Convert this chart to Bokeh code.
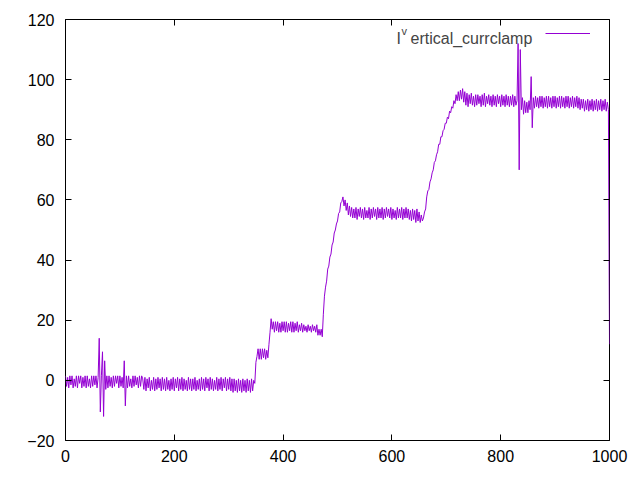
from bokeh.plotting import figure
from bokeh.models import (Range1d, FixedTicker, LinearAxis, CustomJSTickFormatter,
                          Legend, LegendItem, Label)
from bokeh.embed import file_html
from bokeh.resources import INLINE

x_ticks = [0, 200, 400, 600, 800, 1000]
y_ticks = [-20, 0, 20, 40, 60, 80, 100, 120]

seg_a_start = 0
seg_a = [1.5, -2, 1, -2.5, 1.5, -1.5, 1.5, -2.5, 0.5, -2,
         1.5, -2.5, 1.5, -1, 1.5, -2.5, 1, -2, 1.5, -2.5,
         1.5, -2, 0.5, -2.5, 1.5, -2, 1.5, -1.5, 1.5, -2.5,
         1, 14, -10.5, 1.5, 9.5, -12, 6.5, -3, 1.5, -2.5,
         1.5, -2, 1, -2.5, 1.5, -2, 1.5, -1, 1.5, -2.5,
         1.5, -2, 1, -2.5, 6.5, -8.5, 1.5, -2.5, 1.5, -2,
         0.5, -2.5, 1.5, -2, 1.5, -1.5, 1, -2.5, 1.5, -2,
         1.5]

seg_b_start = 142
seg_b = [0.5, -3, 1, -3.5, 0.5, -2.5, 1, -3.5, 0, -3,
         1, -3.5, 0.5, -3, 1, -2.5, 0.5, -3.5, 1, -3,
         0.5, -3.5, 1, -3, 0, -3.5, 0.5, -3, 1, -3.5,
         0.5, -2.5, 1, -3.5, 0.5, -3, 1, -3.5, 0.5, -3,
         0, -3.5, 1, -3, 0.5, -3.5, 0.5, -3, 1, -3.5,
         0, -3, 0.5, -3.5, 1, -3, 0.5, -3.5, 1, -2.5,
         0.5, -3.5, 1, -3, 0.5, -3.5, 0, -3, 1, -3.5,
         0.5, -3, 1, -3.5, 0.5, -2.5, 1, -3.5, 0.5, -3,
         1, -3.5, 0.5, -4, 0.5, -3.5, 0, -4, 0.5, -3.5,
         0, -4, 0.5, -3.5, 0, -4, 0.5, -3.5, 0, -4,
         0.5, -3.5, 0]

seg_c_start = 348
seg_c = [-1, 6, 8, 10.5, 7, 10.5, 7, 10.5, 7.5, 10.5,
         7, 10, 7.5, 12, 16, 20.5, 17, 19.5, 16, 19.5,
         16.5, 19.5, 16, 19, 16, 19.5, 16.5, 19.5, 16, 19.5,
         16, 19, 16.5, 19.5, 16, 19.5, 16, 19, 16.5, 19.5,
         16, 18.5, 16.5, 19, 16, 18.5, 16.5, 18, 16, 18.5,
         16.5, 18, 16, 18.5, 16.5, 18, 16, 18.5, 15, 17]

seg_d_start = 468
seg_d = [15, 17, 14.5, 22, 28, 31, 33, 37, 38, 41,
         42, 45, 46, 49, 50, 52, 53, 55.5, 56, 59,
         59.5, 61, 58, 60, 56.5, 59, 55]

seg_e_start = 522
seg_e = [58, 54.5, 57.5, 54, 57, 54, 57.5, 53.5, 57, 54.5,
         57.5, 54, 57, 53.5, 57.5, 54, 56.5, 54, 57.5, 53.5,
         57, 54, 57.5, 54.5, 57, 53.5, 57.5, 54, 57, 54,
         57.5, 53.5, 57, 54, 57.5, 54.5, 57, 54, 57.5, 53.5,
         57, 54, 56.5, 53.5, 57.5, 54, 57, 54, 57.5, 53.5,
         57, 54, 57.5, 54, 57, 53.5, 56.5, 53, 57, 53.5,
         56.5, 52.5, 57, 53, 56, 52.5, 55, 53, 54]

seg_f_start = 660
seg_f = [56, 57, 61, 63, 63.5, 66, 67, 69, 70, 72.5,
         73, 75, 76, 78.5, 78.5, 81, 81, 83, 83.5, 85.5,
         85.5, 87.5, 87, 89.5, 89, 91, 90.5, 93, 92, 95,
         93, 96, 93, 96.5, 93.5, 97, 92.5, 96]

seg_g_start = 736
seg_g = [91.5, 95.5, 91, 95, 92, 95.5, 91.5, 94.5, 91, 95,
         91.5, 95, 92, 94.5, 91, 95, 91.5, 95.5, 91, 94.5,
         92, 95, 91.5, 94.5, 91, 95, 91.5, 94.5, 91, 95,
         92, 94.5, 91, 95, 91.5, 94.5, 91, 95, 91.5, 94.5,
         91, 94.5, 91.5, 95, 91, 94.5, 91.5, 93]

seg_h_start = 832
seg_h = [112, 70, 110, 90, 94, 88.5, 93, 89, 92.5, 89,
         93, 90, 101, 84, 94]

seg_i_start = 862
seg_i = [90.5, 94.5, 91, 94, 90.5, 94.5, 91, 94.5, 90.5, 94,
         91, 94.5, 90.5, 94.5, 91, 94, 90.5, 94.5, 91, 94.5,
         90.5, 94, 91, 94.5, 90.5, 94.5, 91, 94, 90.5, 94.5,
         91, 94.5, 90.5, 94, 91, 94.5, 90.5, 94, 91, 94.5,
         90.5, 94, 90, 93.5, 90.5, 93.5, 89.5, 93, 90, 93.5,
         89.5, 93, 90, 93.5, 89.5, 93, 90, 93.5, 89.5, 93,
         90, 93.5, 89.5, 93, 90, 93.5, 89.5, 92.5, 90]

end_x = [1000]
end_y = [12]

step = 2
segments = [(seg_a_start, seg_a), (seg_b_start, seg_b), (seg_c_start, seg_c),
            (seg_d_start, seg_d), (seg_e_start, seg_e), (seg_f_start, seg_f),
            (seg_g_start, seg_g), (seg_h_start, seg_h), (seg_i_start, seg_i)]
xs, ys = [], []
for start, vals in segments:
    xs += [start + step * k for k in range(len(vals))]
    ys += vals
xs += end_x
ys += end_y

FONT = "Liberation Sans"
FS = "16px"

p = figure(width=640, height=480, output_backend="svg", toolbar_location=None,
           x_range=Range1d(0, 1000), y_range=Range1d(-20, 120),
           min_border_left=65, min_border_right=31, min_border_top=19,
           min_border_bottom=40)
p.background_fill_color = "white"
p.border_fill_color = "white"
p.outline_line_color = "black"
p.outline_line_width = 1
p.outline_line_alpha = 1
p.xgrid.visible = False
p.ygrid.visible = False

r = p.line(xs, ys, line_color="#9400D3", line_width=1)

def style(ax, ticks, labels=True, standoff=10):
    ax.ticker = FixedTicker(ticks=ticks)
    ax.major_tick_in = 6
    ax.major_tick_out = 0
    ax.minor_tick_in = 0
    ax.minor_tick_out = 0
    ax.major_tick_line_color = "black"
    ax.axis_line_color = None
    ax.major_label_text_font = FONT
    ax.major_label_text_font_size = FS
    ax.major_label_text_color = "black"
    ax.major_label_standoff = standoff
    if not labels:
        ax.formatter = CustomJSTickFormatter(code="return ''")
        ax.major_label_standoff = 0

style(p.xaxis[0], x_ticks, standoff=9)
style(p.yaxis[0], y_ticks, standoff=11)

top = LinearAxis()
style(top, x_ticks, labels=False)
p.add_layout(top, "above")
right = LinearAxis()
style(right, y_ticks, labels=False)
p.add_layout(right, "right")

legend = Legend(items=[LegendItem(label=" ", renderers=[r])],
                location=(480, 399), padding=0, margin=0, spacing=0,
                glyph_width=45, glyph_height=16, label_standoff=0,
                label_width=0, label_height=16, label_text_font_size="1px",
                border_line_color=None, background_fill_alpha=0)
p.add_layout(legend)

p.add_layout(Label(x=331, y=402, x_units="screen", y_units="screen", text="I",
                   text_font=FONT, text_font_size=FS, text_baseline="alphabetic"))
p.add_layout(Label(x=336, y=410, x_units="screen", y_units="screen", text="v",
                   text_font=FONT, text_font_size="11px", text_baseline="alphabetic"))
p.add_layout(Label(x=345, y=402, x_units="screen", y_units="screen",
                   text="ertical_currclamp", text_font=FONT, text_font_size=FS,
                   text_baseline="alphabetic"))

open("out.html", "w").write(file_html(p, INLINE))
